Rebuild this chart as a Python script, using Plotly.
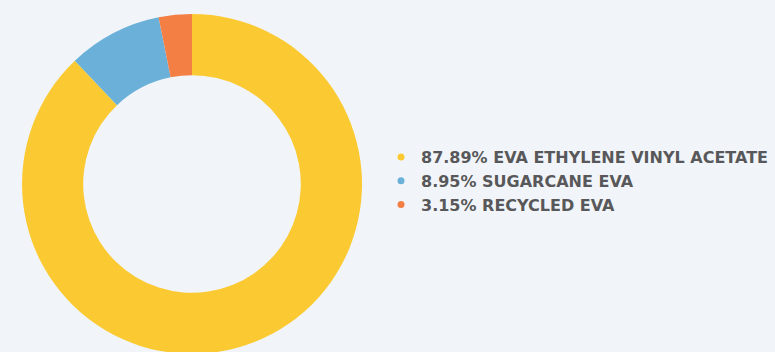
import plotly.graph_objects as go

#%% DATA

labels = ['EVA ETHYLENE VINYL ACETATE', 'SUGARCANE EVA', 'RECYCLED EVA']
shares = [87.89, 8.95, 3.15]
colors = ['#fbca33', '#6ab0d8', '#f47f45']

#%% FIGURE

W, H = 775, 368
fig = go.Figure()

fig.add_trace(go.Pie(
    labels=labels,
    values=shares,
    hole=0.64,
    sort=False,
    direction='clockwise',
    rotation=0,
    marker=dict(colors=colors, line=dict(width=0)),
    textinfo='none',
    showlegend=False,
    domain=dict(x=[22 / W, 362 / W], y=[(H - 354) / H, (H - 14) / H]),
))

# legend entries with round markers
for lab, val, col in zip(labels, shares, colors):
    fig.add_trace(go.Scatter(
        x=[None], y=[None],
        mode='markers',
        marker=dict(color=col, size=7, symbol='circle'),
        name=f'{val:.2f}% {lab}',
    ))

fig.update_layout(
    width=W,
    height=H,
    margin=dict(l=0, r=0, t=0, b=0),
    paper_bgcolor='#f1f5f9',
    plot_bgcolor='#f1f5f9',
    xaxis=dict(visible=False),
    yaxis=dict(visible=False),
    legend=dict(
        x=381 / W, y=(H - 181) / H,
        xanchor='left', yanchor='middle',
        font=dict(family='DejaVu Sans', size=16, color='#58585a', weight='bold'),
        itemwidth=30,
        tracegroupgap=0,
        bgcolor='rgba(0,0,0,0)',
    ),
)

fig.write_html(
    "out.html",
    config={'displayModeBar': False},
    post_script="document.body.style.margin='0';document.body.style.overflow='hidden';",
)
